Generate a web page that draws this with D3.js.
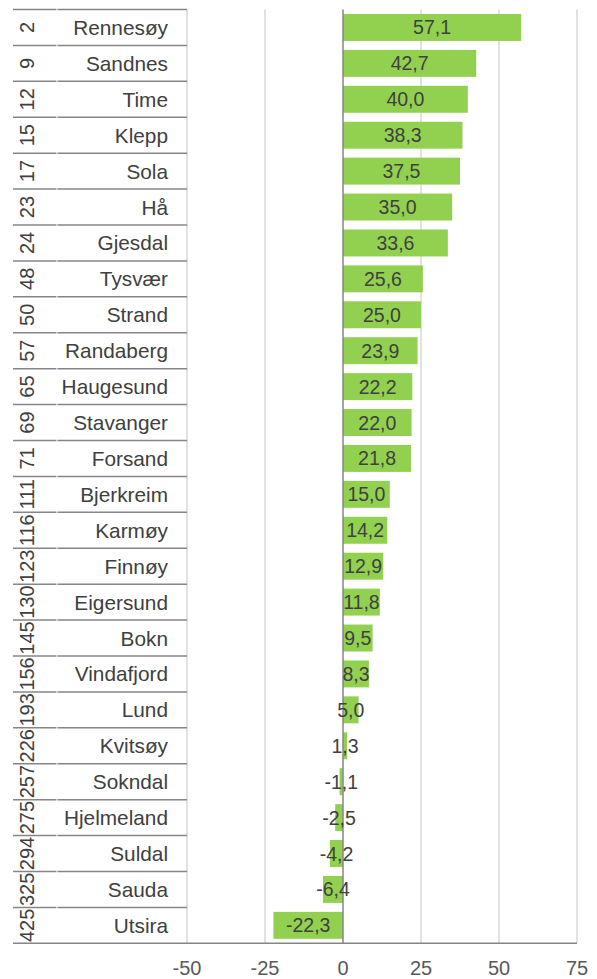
<!DOCTYPE html>
<html><head><meta charset="utf-8">
<script src="https://cdn.jsdelivr.net/npm/d3@7"></script>
<style>body{margin:0;background:#fff}svg{display:block}text{font-family:"Liberation Sans",Arial,sans-serif}</style>
</head><body>
<svg id="c" width="597" height="979"></svg>
<script>
const names = ["Rennesøy","Sandnes","Time","Klepp","Sola","Hå","Gjesdal","Tysvær","Strand","Randaberg","Haugesund","Stavanger","Forsand","Bjerkreim","Karmøy","Finnøy","Eigersund","Bokn","Vindafjord","Lund","Kvitsøy","Sokndal","Hjelmeland","Suldal","Sauda","Utsira"];
const ranks = ["2","9","12","15","17","23","24","48","50","57","65","69","71","111","116","123","130","145","156","193","226","257","275","294","325","425"];
const values = [57.1,42.7,40.0,38.3,37.5,35.0,33.6,25.6,25.0,23.9,22.2,22.0,21.8,15.0,14.2,12.9,11.8,9.5,8.3,5.0,1.3,-1.1,-2.5,-4.2,-6.4,-22.3];
const xTicks = [-50,-25,0,25,50,75];

(function(){
const svg = d3.select("#c");
const pTop = 9.5, pBottom = 943.3, pLeft = 187, pRight = 577;
const x = d3.scaleLinear().domain([-50,75]).range([pLeft,pRight]);
const y = d3.scaleBand().domain(names).range([pTop,pBottom]).paddingInner(0.25).paddingOuter(0.125);
const step = y.step();
const rowTop = i => pTop + i*step;

svg.append("g").selectAll("line").data(xTicks.filter(d=>d!==0)).join("line")
  .attr("x1",d=>x(d)).attr("x2",d=>x(d)).attr("y1",pTop).attr("y2",pBottom)
  .attr("stroke","#d9d9d9").attr("stroke-width",1.5);

svg.append("g").selectAll("rect").data(values).join("rect")
  .attr("x",d=>x(Math.min(0,d))).attr("width",d=>Math.abs(x(d)-x(0)))
  .attr("y",(d,i)=>y(names[i])).attr("height",y.bandwidth())
  .attr("fill","#92d050");

svg.append("line").attr("x1",x(0)).attr("x2",x(0)).attr("y1",pTop).attr("y2",pBottom)
  .attr("stroke","#868686").attr("stroke-width",1.5);

const fmt = v => d3.format(".1f")(v).replace(".",",").replace("−","-");
svg.append("g").selectAll("text").data(values).join("text")
  .attr("x",d=>x(d/2)).attr("y",(d,i)=>y(names[i])+y.bandwidth()/2)
  .attr("dy","0.36em").attr("text-anchor","middle")
  .attr("font-size",19.5).attr("fill","#404040").text(fmt);

const lines = svg.append("g").attr("stroke","#868686").attr("stroke-width",1.5);
d3.range(names.length).forEach(i=>{
  const yy = rowTop(i);
  lines.append("line").attr("x1",13).attr("x2",56.5).attr("y1",yy).attr("y2",yy);
  lines.append("line").attr("x1",57.5).attr("x2",pLeft).attr("y1",yy).attr("y2",yy);
});
lines.append("line").attr("x1",13).attr("x2",pRight).attr("y1",pBottom).attr("y2",pBottom);

svg.append("g").selectAll("text").data(names).join("text")
  .attr("x",168).attr("y",(d,i)=>rowTop(i)+step/2).attr("dy","0.36em")
  .attr("text-anchor","end").attr("font-size",20.8).attr("fill","#404040").text(d=>d);

svg.append("g").selectAll("text").data(ranks).join("text")
  .attr("transform",(d,i)=>`translate(27,${rowTop(i)+step/2}) rotate(-90)`)
  .attr("dy","0.36em").attr("text-anchor","middle")
  .attr("font-size",20).attr("fill","#404040").text(d=>d);

svg.append("g").selectAll("text").data(xTicks).join("text")
  .attr("x",d=>x(d)).attr("y",975).attr("text-anchor","middle")
  .attr("font-size",20).attr("fill","#595959").text(d=>String(d));
})();
</script>
</body></html>
